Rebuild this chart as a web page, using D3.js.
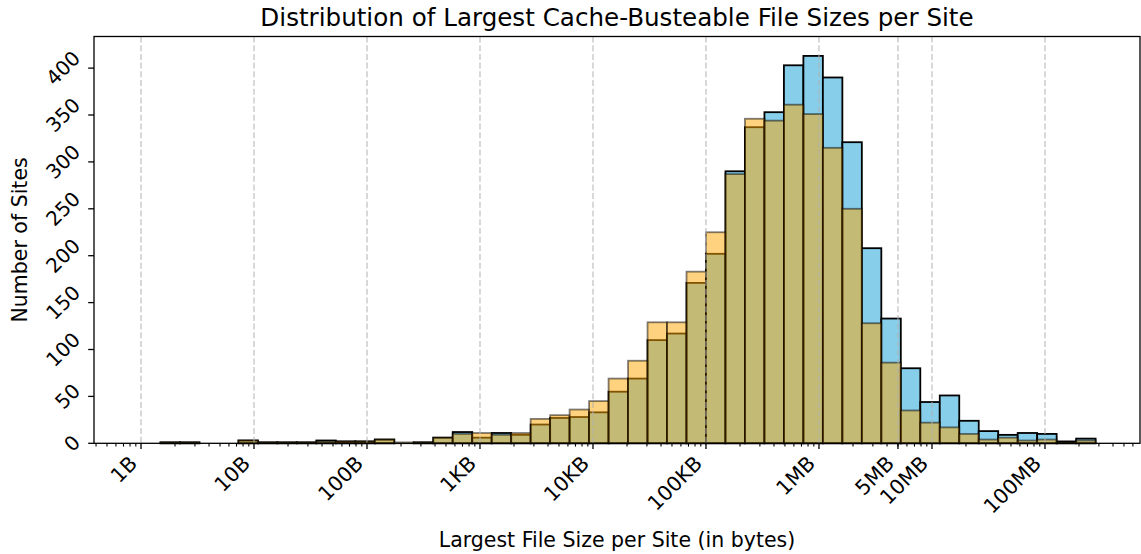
<!DOCTYPE html>
<html>
<head>
<meta charset="utf-8">
<script src="https://cdn.jsdelivr.net/npm/d3@7"></script>
<style>
  body { margin: 0; background: #fff; }
  svg { display: block; font-family: "DejaVu Sans", sans-serif; }
</style>
</head>
<body>
<script>
// Histogram bins: 50 log-spaced bins from 1 byte up to 10^(250/29) bytes
const binCount = 50;
const binTopDecade = 250 / 29;

// Sites per bin for the two overlaid distributions
const countsPrimary = [
  0, 1, 1, 0, 0, 3, 1, 1, 1, 3,
  2, 2, 4, 0, 1, 6, 12, 6, 11, 9,
  20, 27, 28, 33, 55, 69, 110, 117, 171, 202,
  290, 337, 353, 403, 413, 390, 321, 208, 133, 80,
  44, 51, 24, 13, 9, 11, 10, 2, 5, 0
];
const countsSecondary = [
  0, 1, 1, 0, 0, 3, 1, 1, 1, 2,
  2, 2, 4, 1, 1, 6, 10, 11, 9, 11,
  26, 30, 36, 45, 69, 88, 129, 129, 183, 225,
  287, 346, 344, 361, 351, 315, 250, 128, 86, 35,
  22, 17, 10, 4, 6, 3, 4, 1, 3, 0
];

// Axis ticks
const xTickValues = [1, 10, 100, 1e3, 1e4, 1e5, 1e6, 5e6, 1e7, 1e8];
const xTickLabels = ["1B", "10B", "100B", "1KB", "10KB", "100KB", "1MB", "5MB", "10MB", "100MB"];
const yTickValues = [0, 50, 100, 150, 200, 250, 300, 350, 400];

// Axis limits
const xLimits = [Math.pow(10, -0.416), Math.pow(10, 8.841)];
const yLimits = [0, 433.7];

const W = 1141, H = 554;
const plot = { left: 94, right: 1140, top: 36.5, bottom: 443.3 };

const svg = d3.select("body").append("svg").attr("width", W).attr("height", H);

const x = d3.scaleLog().domain(xLimits).range([plot.left, plot.right]);
const y = d3.scaleLinear().domain(yLimits).range([plot.bottom, plot.top]);

const edges = d3.range(binCount + 1).map(i => Math.pow(10, i * binTopDecade / binCount));
const bins = d3.range(binCount).map(i => ({ x0: edges[i], x1: edges[i + 1], a: countsPrimary[i], b: countsSecondary[i] }));

const barW = 1.8;

// First distribution: sky blue, solid black edges
svg.append("g").selectAll("rect").data(bins).join("rect")
  .attr("x", d => x(d.x0))
  .attr("width", d => x(d.x1) - x(d.x0))
  .attr("y", d => y(d.a))
  .attr("height", d => y(0) - y(d.a))
  .attr("fill", "#87ceeb")
  .attr("stroke", "#000")
  .attr("stroke-width", barW);

// Second distribution: translucent orange over the first
svg.append("g").selectAll("rect").data(bins).join("rect")
  .attr("x", d => x(d.x0))
  .attr("width", d => x(d.x1) - x(d.x0))
  .attr("y", d => y(d.b))
  .attr("height", d => y(0) - y(d.b))
  .attr("fill", "rgba(255,165,0,0.5)")
  .attr("stroke", "rgba(0,0,0,0.5)")
  .attr("stroke-width", barW);

// Dashed vertical grid at the major ticks
svg.append("g").selectAll("line").data(xTickValues).join("line")
  .attr("x1", d => x(d)).attr("x2", d => x(d))
  .attr("y1", plot.top).attr("y2", plot.bottom)
  .attr("stroke", "#b0b0b0")
  .attr("stroke-opacity", 0.7)
  .attr("stroke-width", 1.4)
  .attr("stroke-dasharray", "6,2.7");

// Frame
svg.append("rect")
  .attr("x", plot.left).attr("y", plot.top)
  .attr("width", plot.right - plot.left).attr("height", plot.bottom - plot.top)
  .attr("fill", "none").attr("stroke", "#000").attr("stroke-width", 1.3);

// Minor ticks on the log axis
const minorTicks = [];
for (let e = -1; e <= 9; e++) {
  for (let m = 2; m <= 9; m++) {
    const v = m * Math.pow(10, e);
    if (v > xLimits[0] && v < xLimits[1]) minorTicks.push(v);
  }
}
svg.append("g").selectAll("line").data(minorTicks).join("line")
  .attr("x1", d => x(d)).attr("x2", d => x(d))
  .attr("y1", plot.bottom).attr("y2", plot.bottom + 3.3)
  .attr("stroke", "#000").attr("stroke-width", 1.1);

// Major x ticks
svg.append("g").selectAll("line").data(xTickValues).join("line")
  .attr("x1", d => x(d)).attr("x2", d => x(d))
  .attr("y1", plot.bottom).attr("y2", plot.bottom + 5.8)
  .attr("stroke", "#000").attr("stroke-width", 1.3);

// Y ticks
svg.append("g").selectAll("line").data(yTickValues).join("line")
  .attr("x1", plot.left - 5.8).attr("x2", plot.left)
  .attr("y1", d => y(d)).attr("y2", d => y(d))
  .attr("stroke", "#000").attr("stroke-width", 1.3);

// Text rotated 45 degrees; its rotated bounding box is aligned to the anchor
function rotatedLabel(text, ax, ay, size, vAlign) {
  const t = svg.append("text")
    .attr("font-size", size)
    .attr("text-anchor", "middle")
    .attr("dominant-baseline", "central")
    .attr("fill", "#000")
    .text(text);
  const bb = t.node().getBBox();
  const d = (bb.width + bb.height) * Math.SQRT1_2;
  const cx = ax - d / 2;
  const cy = vAlign === "top" ? ay + d / 2 : ay;
  t.attr("x", cx).attr("y", cy).attr("transform", `rotate(-45, ${cx}, ${cy})`);
}

xTickValues.forEach((v, i) => rotatedLabel(xTickLabels[i], x(v) + 1, plot.bottom + 8, 20.5, "top"));
yTickValues.forEach(v => rotatedLabel(String(v), plot.left - 9, y(v), 20, "center"));

// Title and axis labels
svg.append("text")
  .attr("x", (plot.left + plot.right) / 2).attr("y", 26)
  .attr("text-anchor", "middle").attr("font-size", 24.6)
  .text("Distribution of Largest Cache-Busteable File Sizes per Site");

svg.append("text")
  .attr("x", (plot.left + plot.right) / 2).attr("y", 547)
  .attr("text-anchor", "middle").attr("font-size", 20.5)
  .text("Largest File Size per Site (in bytes)");

svg.append("text")
  .attr("transform", `translate(27, ${(plot.top + plot.bottom) / 2}) rotate(-90)`)
  .attr("text-anchor", "middle").attr("font-size", 20.5)
  .text("Number of Sites");
</script>
</body>
</html>
